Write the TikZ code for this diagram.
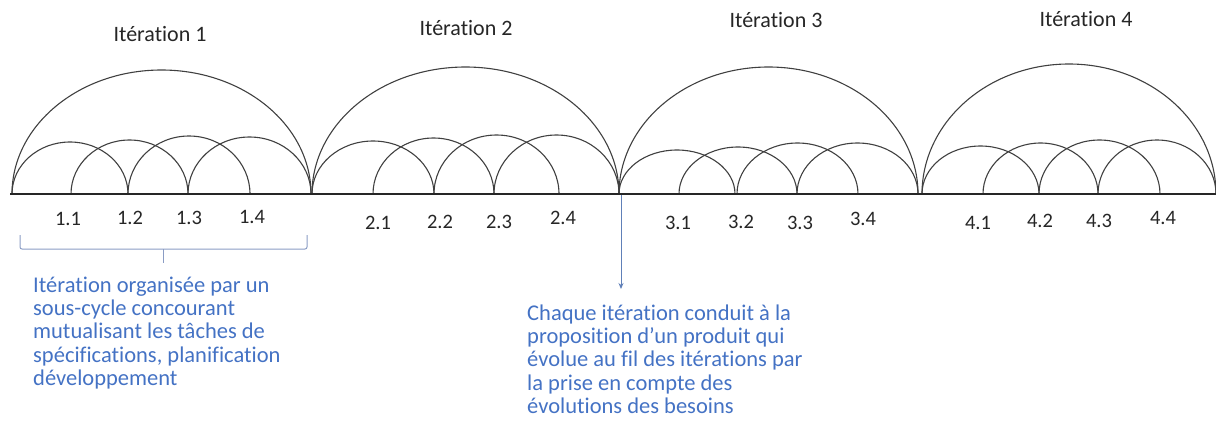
\documentclass[tikz,border=0pt]{standalone}
\usepackage{fontspec}
\setmainfont{Carlito}[Ligatures={TeX,NoCommon}]
\usetikzlibrary{arrows.meta}
\definecolor{txtblue}{HTML}{4472C4}
\definecolor{brk}{HTML}{8A9CC4}
\definecolor{arw}{HTML}{6080B8}
\begin{document}
\begin{tikzpicture}[x=1pt,y=-1pt,
  arcline/.style={draw=black!75,line width=1.1pt},
  axisline/.style={draw=black!85,line width=1.8pt},
  titletext/.style={font=\fontsize{22}{26}\selectfont,anchor=base,inner sep=0pt,text=black!85},
  numtext/.style={font=\fontsize{20.5}{24}\selectfont,anchor=base,inner sep=0pt,text=black!85},
  notetext/.style={font=\fontsize{22.5}{23.3}\selectfont,anchor=north west,inner sep=0pt,align=left,text=txtblue},
  bracketline/.style={draw=brk,line width=1pt,rounded corners=2pt},
  arrowline/.style={draw=arw,line width=0.9pt,-{Stealth[length=6pt,width=5pt]}}
]
\useasboundingbox (0,0) rectangle (1216,429);
% arcs
\foreach \a/\b/\t in {12/311/70, 12/128/142, 71/188/140, 128/250/136, 188/311/137,
                       312/619/67, 312/434/141, 373/494/138, 434/559/135, 494/619/135,
                       619/918/67, 619/735/150, 679/797/147, 737/858/143, 797/918/143,
                       922/1216/64, 922/1039/146, 983/1098/143, 1039/1160/140, 1098/1216/140}{
  \pgfmathsetmacro\rx{(\b-\a)/2}
  \pgfmathsetmacro\ry{194-\t}
  \draw[arcline] (\a,194) arc[start angle=180,end angle=0,x radius=\rx pt,y radius=\ry pt];
}
% baseline
\coordinate (L) at (10,194);
\coordinate (R) at (1216,194);
\draw[axisline] (L) -- (R);
% titles
\node[titletext] (t1) at (160,41) {Itération 1};
\node[titletext] (t2) at (466,35) {Itération 2};
\node[titletext] (t3) at (776,27.5) {Itération 3};
\node[titletext] (t4) at (1086,26) {Itération 4};
% numbers
\node[numtext] (n11) at (68,225.5) {1.1};
\node[numtext] (n12) at (130,224.5) {1.2};
\node[numtext] (n13) at (189,224.5) {1.3};
\node[numtext] (n14) at (252,223.5) {1.4};
\node[numtext] (n21) at (378,229.5) {2.1};
\node[numtext] (n22) at (440,228.5) {2.2};
\node[numtext] (n23) at (499,228.5) {2.3};
\node[numtext] (n24) at (563,224.5) {2.4};
\node[numtext] (n31) at (678,229.5) {3.1};
\node[numtext] (n32) at (741,228.5) {3.2};
\node[numtext] (n33) at (800,229.5) {3.3};
\node[numtext] (n34) at (863,225.5) {3.4};
\node[numtext] (n41) at (978,229.5) {4.1};
\node[numtext] (n42) at (1040,227.5) {4.2};
\node[numtext] (n43) at (1099,227.5) {4.3};
\node[numtext] (n44) at (1163,224.5) {4.4};
% bracket
\coordinate (bl) at (20,235);
\coordinate (br) at (307,235);
\coordinate (bm) at (163,249);
\coordinate (bt) at (163,263);
\draw[bracketline] (bl) |- (bm) -| (br);
\draw[bracketline] (bm) -- (bt);
% arrow
\coordinate (s3) at (621,195);
\coordinate (tip) at (621,289);
\draw[arrowline] (s3) -- (tip);
% notes
\node[notetext] (noteL) at (33,275.7) {\strut Itération organisée par un\\sous-cycle concourant\\mutualisant les tâches de\\spécifications, planification\\développement};
\node[notetext] (noteR) at (527,303.7) {\strut Chaque itération conduit à la\\proposition d’un produit qui\\évolue au fil des itérations par\\la prise en compte des\\évolutions des besoins};
\end{tikzpicture}
\end{document}
